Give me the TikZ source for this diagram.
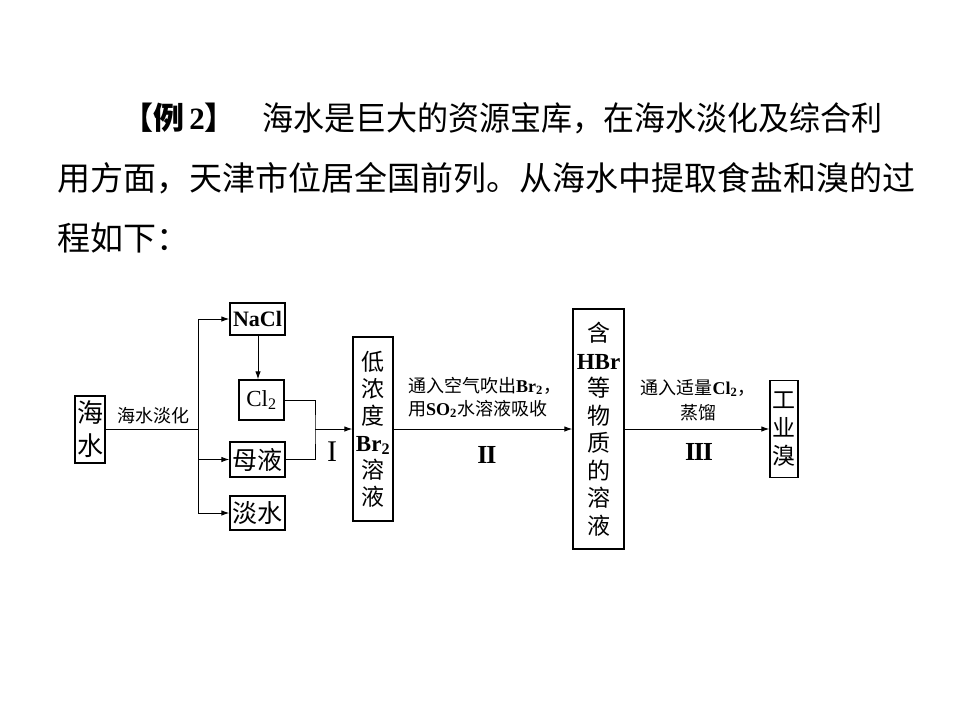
\documentclass[tikz,border=0pt]{standalone}
\usepackage{fontspec}
\setmainfont{Liberation Serif}
\newfontfamily\cjk{Noto Sans CJK SC}
\usetikzlibrary{arrows.meta}
\begin{document}
\begin{tikzpicture}[x=1pt,y=-1pt,
  box/.style={draw, line width=1.3pt, inner sep=0pt, align=center},
  arr/.style={-{Latex[length=8pt,width=5.5pt]}, line width=1pt},
  ln/.style={line width=1pt},
  hdr/.style={anchor=west, inner sep=0pt},
  lbl/.style={inner sep=0pt, align=center}]
\useasboundingbox (0,0) rectangle (960,720);
% header
\node[hdr] (h1a) at (122,118) {\bfseries\fontsize{31}{31}\selectfont{\cjk 【例}\,2{\cjk 】}};
\node[hdr] (h1b) at (262,118) {\scalebox{0.94}[1]{\cjk\fontsize{33}{33}\selectfont 海水是巨大的资源宝库，在海水淡化及综合利}};
\node[hdr] (h2) at (57,178) {\cjk\fontsize{33}{33}\selectfont 用方面，天津市位居全国前列。从海水中提取食盐和溴的过};
\node[hdr] (h3) at (57,238) {\cjk\fontsize{33}{33}\selectfont 程如下：};
% boxes
\node[box, minimum width=30pt, minimum height=67pt, font={\cjk\fontsize{26}{33}\selectfont}] (hs) at (90,429.5)
  {海\\水};
\node[box, minimum width=55pt, minimum height=32pt, font={\bfseries\fontsize{22}{22}\selectfont}] (nacl) at (257.5,319)
  {NaCl};
\node[box, minimum width=45pt, minimum height=40pt, font={\fontsize{23}{23}\selectfont}] (cl) at (261.5,400)
  {Cl\textsubscript{2}};
\node[box, minimum width=55pt, minimum height=35pt, font={\cjk\fontsize{25}{25}\selectfont}] (my) at (257.5,459.5)
  {母液};
\node[box, minimum width=55pt, minimum height=34pt, font={\cjk\fontsize{25}{25}\selectfont}] (ds) at (257.5,513)
  {淡水};
\node[box, minimum width=40pt, minimum height=184pt, font={\cjk\fontsize{23}{27}\selectfont}] (low) at (373,429)
  {低\\浓\\度\\{\rmfamily\bfseries Br\textsubscript{2}}\\溶\\液};
\node[box, minimum width=51pt, minimum height=240pt, font={\cjk\fontsize{23}{27.5}\selectfont}] (hbr) at (598.5,429)
  {含\\{\rmfamily\bfseries HBr}\\等\\物\\质\\的\\溶\\液};
\node[box, minimum width=28pt, minimum height=97pt, font={\cjk\fontsize{23}{28}\selectfont}] (gy) at (784,429)
  {工\\业\\溴};
% connectors
\coordinate (br) at (198,429.5);
\coordinate (bt) at (198,319);
\coordinate (bb) at (198,513);
\coordinate (j) at (315,429);
\draw[ln] (hs.east) -- (br);
\draw[ln] (bt) -- (bb);
\draw[arr] (bt) -- (nacl.west);
\draw[arr] (bb) -- (ds.west);
\draw[arr] (br |- my.west) -- (my.west);
\draw[arr] (nacl.south -| 258,0) -- (258,0 |- cl.north);
\draw[ln] (cl.east) -| (j) |- (my.east);
\draw[arr] (j) -- (low.west);
\draw[arr] (low.east) -- (hbr.west);
\draw[arr] (hbr.east) -- (gy.west);
% labels
\node[lbl] (l1) at (153,416) {\cjk\fontsize{18}{18}\selectfont 海水淡化};
\node[lbl] (r1) at (332,452) {\fontsize{30}{30}\selectfont I};
\node[lbl, anchor=west] (l2a) at (408,386) {\cjk\fontsize{18}{18}\selectfont 通入空气吹出{\rmfamily\bfseries\fontsize{18}{18}\selectfont Br\textsubscript{2}}，};
\node[lbl, anchor=west] (l2b) at (408,409) {\cjk\fontsize{18}{18}\selectfont 用{\rmfamily\bfseries\fontsize{18}{18}\selectfont SO\textsubscript{2}}水溶液吸收};
\node[lbl] (r2) at (487,455) {\bfseries\fontsize{26}{26}\selectfont I\kern-1.2ptI};
\node[lbl] (l3a) at (698,388) {\cjk\fontsize{18}{18}\selectfont 通入适量{\rmfamily\bfseries\fontsize{18}{18}\selectfont Cl\textsubscript{2}}，};
\node[lbl] (l3b) at (698,413) {\cjk\fontsize{18}{18}\selectfont 蒸馏};
\node[lbl] (r3) at (699,452) {\bfseries\fontsize{26}{26}\selectfont I\kern-1.2ptI\kern-1.2ptI};
\end{tikzpicture}
\end{document}
